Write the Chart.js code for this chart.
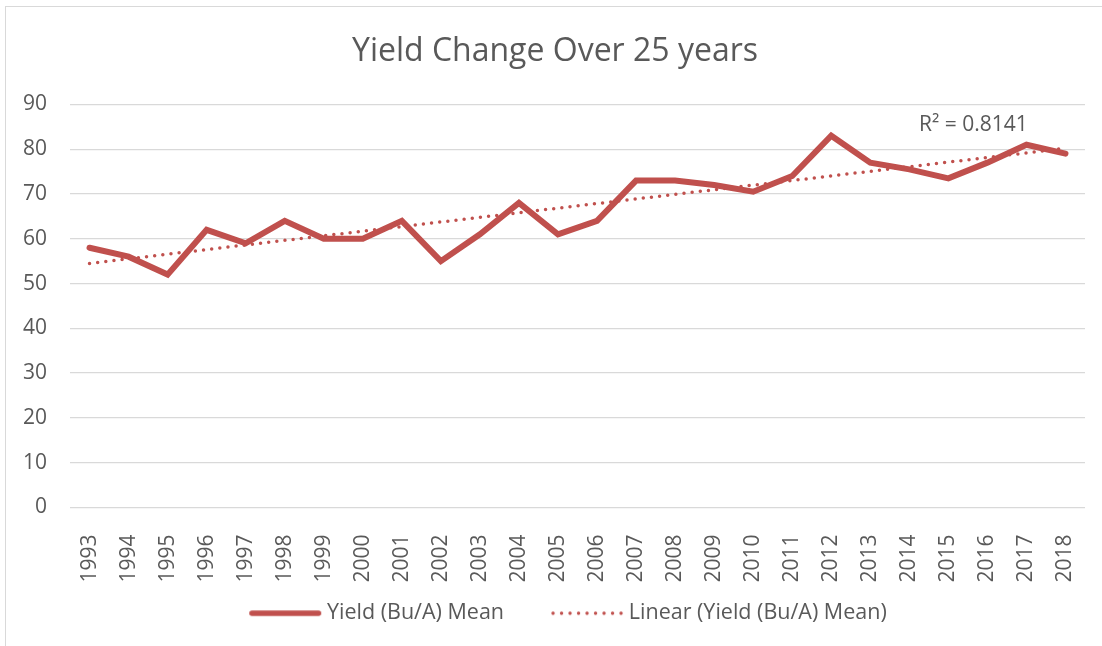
<!DOCTYPE html>
<html>
<head>
<meta charset="utf-8">
<script src="https://cdn.jsdelivr.net/npm/chart.js@4"></script>
<style>
    html, body { margin: 0; padding: 0; background: #fff; overflow: hidden; }
    #wrap { position: relative; width: 1102px; height: 646px; overflow: hidden; }
    #frame { position: absolute; left: 5px; top: 6px; width: 1200px; height: 700px; border: 1px solid #d9d9d9; border-width: 1px 0 0 1.5px; }
    canvas { position: absolute; left: 0; top: 0; }
</style>
</head>
<body>
<div id="wrap">
    <div id="frame"></div>
    <canvas id="meuGrafico" width="1102" height="646"></canvas>
</div>
<script>
// Dados
const anos = ["1993", "1994", "1995", "1996", "1997", "1998", "1999", "2000", "2001", "2002",
    "2003", "2004", "2005", "2006", "2007", "2008", "2009", "2010", "2011", "2012",
    "2013", "2014", "2015", "2016", "2017", "2018"];
const rendimento = [58, 56, 52, 62, 59, 64, 60, 60, 64, 55,
    61, 68, 61, 64, 73, 73, 72, 70.5, 74, 83,
    77, 75.5, 73.5, 77, 81, 79];
// linha de tendência: só os extremos, o resto é ligado pelo spanGaps
const tendenciaInicio = 54.5;
const tendenciaFim = 80.2;
const rotuloR2 = "R² = 0.8141";

const vermelho = "#C0504D";
const cinza = "#595959";
const fonte = "'Open Sans', 'Noto Sans', sans-serif";

const tendencia = anos.map((a, i) => {
    if (i === 0) return tendenciaInicio;
    if (i === anos.length - 1) return tendenciaFim;
    return null;
});

// Amostras da legenda desenhadas num canvas à parte (usadas como pointStyle)
function amostraSolida() {
    const c = document.createElement("canvas");
    c.width = 107;
    c.height = 8;
    const g = c.getContext("2d");
    g.strokeStyle = vermelho;
    g.lineWidth = 5.5;
    g.lineCap = "round";
    g.beginPath();
    g.moveTo(35.75, 4);
    g.lineTo(102.25, 4);
    g.stroke();
    return c;
}

function amostraPontilhada() {
    const c = document.createElement("canvas");
    c.width = 105;
    c.height = 6;
    const g = c.getContext("2d");
    g.fillStyle = vermelho;
    for (let k = 0; k < 9; k++) {
        g.beginPath();
        g.arc(34 + k * 8.5, 3, 1.7, 0, Math.PI * 2);
        g.fill();
    }
    return c;
}

const amostras = [amostraSolida(), amostraPontilhada()];

// Texto do R² posicionado pelas escalas
const pluginR2 = {
    id: "rotuloR2",
    afterDatasetsDraw(chart) {
        const { ctx, scales } = chart;
        const x = scales.x.getPixelForValue(21) * 0.75 + scales.x.getPixelForValue(22) * 0.25;
        const y = scales.y.getPixelForValue(85.3);
        ctx.save();
        ctx.font = "21px " + fonte;
        ctx.fillStyle = cinza;
        ctx.textAlign = "left";
        ctx.textBaseline = "middle";
        ctx.fillText(rotuloR2, x, y);
        ctx.restore();
    }
};

const ctx = document.getElementById("meuGrafico");
const meuGrafico = new Chart(ctx.getContext("2d"), {
    type: "line",
    data: {
        labels: anos,
        datasets: [{
            label: "Yield (Bu/A) Mean",
            data: rendimento,
            borderColor: vermelho,
            backgroundColor: vermelho,
            borderWidth: 6,
            pointRadius: 0,
            tension: 0,
            borderCapStyle: "round",
            borderJoinStyle: "miter"
        }, {
            label: "Linear (Yield (Bu/A) Mean)",
            data: tendencia,
            spanGaps: true,
            borderColor: vermelho,
            backgroundColor: vermelho,
            borderWidth: 3.5,
            borderDash: [0, 8.2],
            borderCapStyle: "round",
            pointRadius: 0
        }]
    },
    options: {
        responsive: false,
        animation: false,
        layout: { padding: { left: 25, right: 17, top: 0, bottom: 12 } },
        plugins: {
            title: {
                display: true,
                text: "Yield Change Over 25 years",
                color: cinza,
                font: { family: fonte, size: 32, weight: "normal" },
                padding: { top: 33, bottom: 33 }
            },
            legend: {
                position: "bottom",
                labels: {
                    color: cinza,
                    font: { family: fonte, size: 21.5 },
                    usePointStyle: true,
                    pointStyleWidth: 93,
                    padding: 21,
                    generateLabels(chart) {
                        return chart.data.datasets.map((ds, i) => ({
                            text: ds.label,
                            datasetIndex: i,
                            fontColor: cinza,
                            pointStyle: amostras[i],
                            rotation: 0,
                            lineWidth: 0,
                            hidden: false
                        }));
                    }
                }
            },
            tooltip: { enabled: false }
        },
        scales: {
            x: {
                offset: true,
                grid: { display: false },
                border: { display: false },
                afterFit(scale) {
                    scale.height = 74;
                    scale.paddingLeft = 0;
                    scale.paddingRight = 0;
                },
                ticks: {
                    color: cinza,
                    font: { family: fonte, size: 21 },
                    minRotation: 90,
                    maxRotation: 90,
                    autoSkip: false,
                    padding: 19
                }
            },
            y: {
                min: 0,
                max: 90,
                border: { display: false },
                grid: { color: "#d9d9d9", lineWidth: 1.3, drawTicks: false },
                afterFit(scale) { scale.width = 45; },
                ticks: {
                    stepSize: 10,
                    color: cinza,
                    font: { family: fonte, size: 21 },
                    mirror: true,
                    crossAlign: "far",
                    padding: -47
                }
            }
        }
    },
    plugins: [pluginR2]
});
</script>
</body>
</html>
